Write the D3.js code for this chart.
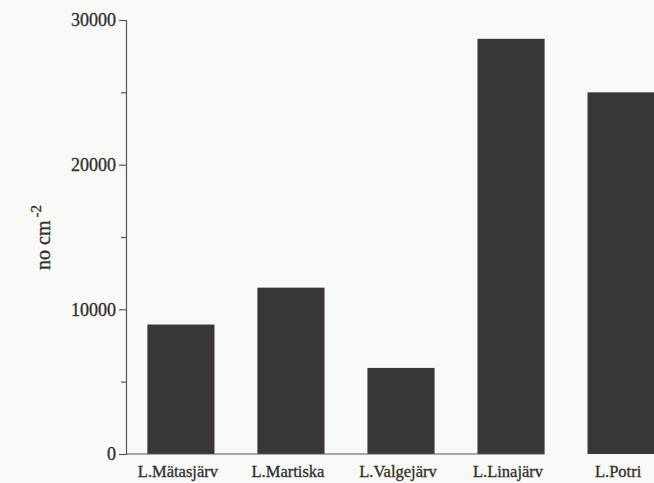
<!DOCTYPE html>
<html>
<head>
<meta charset="utf-8">
<script src="https://cdn.jsdelivr.net/npm/d3@7"></script>
<style>
  html, body { margin: 0; padding: 0; background: #f9f9f7; }
  svg { display: block; }
</style>
</head>
<body>
<svg id="chart" width="654" height="483"></svg>
<script>
// Lakes and their counts (no cm^-2)
const lakes = ["L.Mätasjärv", "L.Martiska", "L.Valgejärv", "L.Linajärv", "L.Potri"];
const counts = [8950, 11500, 5950, 28700, 25000];
const majorTicks = [0, 10000, 20000, 30000];
const minorTicks = [5000, 15000, 25000];

const svg = d3.select("#chart");
const ink = "#3a3636";
const axisInk = "#5a5656";
const textInk = "#2f2d2d";
const serif = "'Liberation Serif', 'Times New Roman', serif";

const plotLeft = 126, plotTop = 20, plotBottom = 454;

const y = d3.scaleLinear().domain([0, 30000]).range([plotBottom, plotTop]);
const x = d3.scaleBand().domain(lakes).range([plotLeft, 676])
  .paddingInner(0.39).paddingOuter(0.194);

// bars
svg.append("g").selectAll("rect")
  .data(lakes.map((k, i) => ({ k, v: counts[i] })))
  .join("rect")
  .attr("x", d => x(d.k))
  .attr("width", x.bandwidth())
  .attr("y", d => y(d.v))
  .attr("height", d => y(0) - y(d.v))
  .attr("fill", ink);

// baseline under the bars
svg.append("line")
  .attr("x1", plotLeft).attr("x2", x("L.Linajärv") + x.bandwidth())
  .attr("y1", y(0)).attr("y2", y(0))
  .attr("stroke", axisInk).attr("stroke-width", 1.2);

// y axis with major labelled ticks
const yAxis = d3.axisLeft(y).tickValues(majorTicks).tickSize(7).tickPadding(3)
  .tickFormat(d3.format("d"));
const gy = svg.append("g").attr("transform", `translate(${plotLeft},0)`).call(yAxis);
gy.select(".domain").attr("stroke", axisInk).attr("stroke-width", 1.2);
gy.selectAll(".tick line").attr("stroke", axisInk).attr("stroke-width", 1.2);
gy.selectAll(".tick text")
  .attr("fill", textInk)
  .attr("stroke", textInk).attr("stroke-width", 0.3)
  .style("font-family", serif)
  .style("font-size", "18px");

// minor ticks
const yMinor = d3.axisLeft(y).tickValues(minorTicks).tickSize(5).tickFormat("");
const gm = svg.append("g").attr("transform", `translate(${plotLeft},0)`).call(yMinor);
gm.select(".domain").remove();
gm.selectAll(".tick line").attr("stroke", axisInk).attr("stroke-width", 1.2);

// category labels
svg.append("g").selectAll("text")
  .data(lakes)
  .join("text")
  .attr("x", d => x(d) + x.bandwidth() / 2 - 3)
  .attr("y", 477)
  .attr("text-anchor", "middle")
  .attr("fill", textInk)
  .attr("stroke", textInk).attr("stroke-width", 0.3)
  .style("font-family", serif)
  .style("font-size", "16.5px")
  .text(d => d);

// y axis title: no cm^-2
const title = svg.append("text")
  .attr("transform", "translate(50,270) rotate(-90)")
  .attr("fill", textInk)
  .attr("stroke", textInk).attr("stroke-width", 0.3)
  .style("font-family", serif)
  .style("font-size", "20px");
title.append("tspan").text("no cm");
title.append("tspan").attr("dy", -9).attr("dx", 3).style("font-size", "15px").text("-2");
</script>
</body>
</html>
